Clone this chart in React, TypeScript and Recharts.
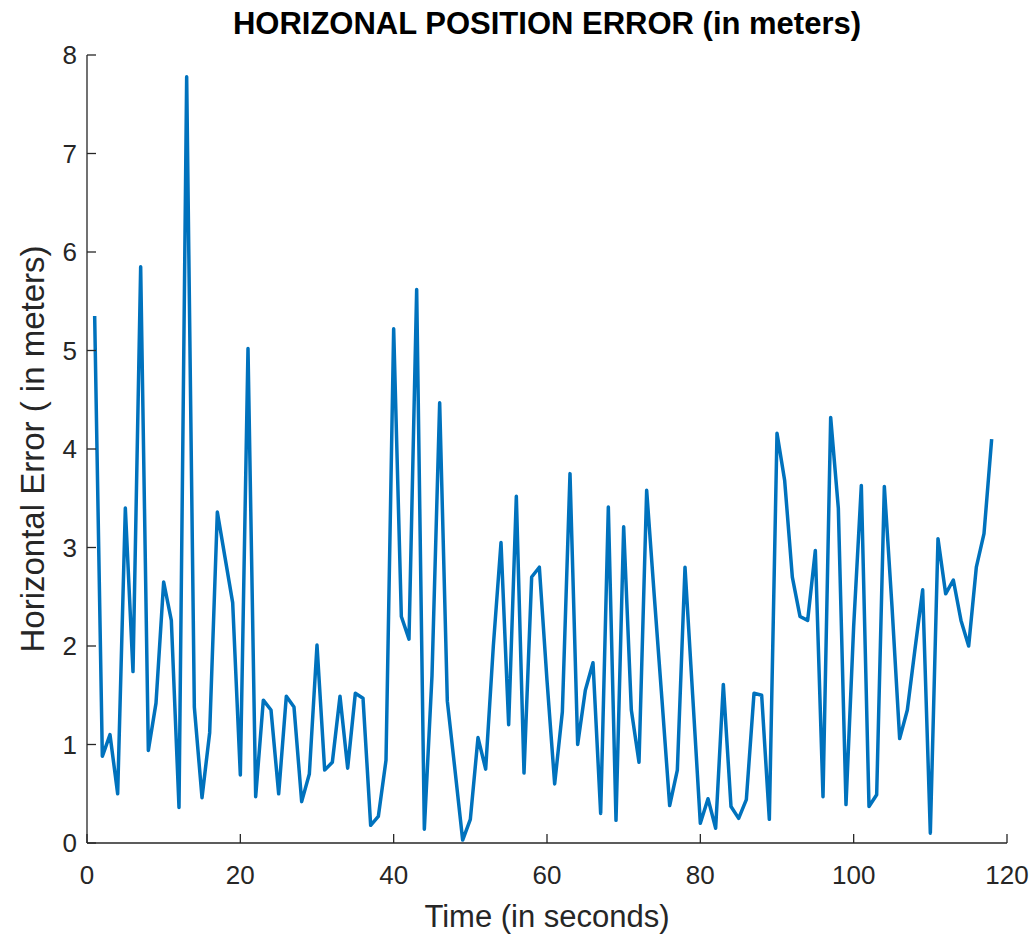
import React from 'react';
import { LineChart, Line, XAxis, YAxis } from 'recharts';

const seconds = [
  1, 2, 3, 4, 5, 6, 7, 8, 9, 10, 11, 12, 13, 14, 15, 16, 17, 18, 19, 20,
  21, 22, 23, 24, 25, 26, 27, 28, 29, 30, 31, 32, 33, 34, 35, 36, 37, 38, 39, 40,
  41, 42, 43, 44, 45, 46, 47, 48, 49, 50, 51, 52, 53, 54, 55, 56, 57, 58, 59, 60,
  61, 62, 63, 64, 65, 66, 67, 68, 69, 70, 71, 72, 73, 74, 75, 76, 77, 78, 79, 80,
  81, 82, 83, 84, 85, 86, 87, 88, 89, 90, 91, 92, 93, 94, 95, 96, 97, 98, 99, 100,
  101, 102, 103, 104, 105, 106, 107, 108, 109, 110, 111, 112, 113, 114, 115, 116, 117, 118,
];

const horizontalError = [
  5.35, 0.88, 1.1, 0.5, 3.4, 1.74, 5.85, 0.94, 1.42, 2.65,
  2.26, 0.36, 7.78, 1.38, 0.46, 1.12, 3.36, 2.9, 2.44, 0.69,
  5.02, 0.47, 1.45, 1.35, 0.5, 1.49, 1.38, 0.42, 0.7, 2.01,
  0.74, 0.82, 1.49, 0.76, 1.52, 1.47, 0.18, 0.27, 0.84, 5.22,
  2.3, 2.07, 5.62, 0.14, 1.7, 4.47, 1.44, 0.74, 0.03, 0.24,
  1.07, 0.75, 2.0, 3.05, 1.2, 3.52, 0.71, 2.7, 2.8, 1.65,
  0.6, 1.33, 3.75, 1.0, 1.55, 1.83, 0.3, 3.41, 0.23, 3.21,
  1.35, 0.82, 3.58, 2.5, 1.45, 0.38, 0.74, 2.8, 1.5, 0.2,
  0.45, 0.15, 1.61, 0.37, 0.25, 0.44, 1.52, 1.5, 0.24, 4.16,
  3.68, 2.7, 2.3, 2.26, 2.97, 0.47, 4.32, 3.4, 0.39, 2.2,
  3.63, 0.37, 0.49, 3.62, 2.4, 1.06, 1.35, 1.97, 2.57, 0.1,
  3.09, 2.53, 2.67, 2.26, 2.0, 2.8, 3.14, 4.1,
];

const xTicks = [0, 20, 40, 60, 80, 100, 120];
const yTicks = [0, 1, 2, 3, 4, 5, 6, 7, 8];

const titleText = 'HORIZONAL POSITION ERROR (in meters)';
const xLabelText = 'Time (in seconds)';
const yLabelText = 'Horizontal Error ( in meters)';

const data = seconds.map((t, i) => ({ t, err: horizontalError[i] }));

const INK = '#262626';
const FONT = "'Liberation Sans', Arial, Helvetica, sans-serif";
const TICK_LEN = 9;
const MARGIN = 10;

const BottomTick = (props: any) => {
  const { x, y, payload } = props;
  const axisY = y - MARGIN;
  return (
    <g>
      <line x1={x} x2={x} y1={axisY} y2={axisY - TICK_LEN} stroke={INK} strokeWidth={1.3} />
      <text x={x} y={axisY + 41} textAnchor="middle" fill={INK} fontSize={26} fontFamily={FONT}>
        {payload.value}
      </text>
    </g>
  );
};

const LeftTick = (props: any) => {
  const { x, y, payload } = props;
  const axisX = x + MARGIN;
  return (
    <g>
      <line x1={axisX} x2={axisX + TICK_LEN} y1={y} y2={y} stroke={INK} strokeWidth={1.3} />
      <text x={axisX - 10} y={y + 9} textAnchor="end" fill={INK} fontSize={26} fontFamily={FONT}>
        {payload.value}
      </text>
    </g>
  );
};

const TopTick = (props: any) => {
  const { x, y } = props;
  return <line x1={x} x2={x} y1={y} y2={y + TICK_LEN} stroke={INK} strokeWidth={1.3} />;
};

const RightTick = (props: any) => {
  const { x, y } = props;
  return <line x1={x} x2={x - TICK_LEN} y1={y} y2={y} stroke={INK} strokeWidth={1.3} />;
};

export default function App() {
  const axisLine = { stroke: INK, strokeWidth: 1.3 };
  return (
    <div style={{ position: 'absolute', left: 0, top: 0, width: 1035, height: 941, background: '#ffffff' }}>
      <LineChart
        width={1035}
        height={941}
        data={data}
        margin={{ top: 55, right: 28, bottom: 38, left: 27 }}
      >
        <XAxis
          dataKey="t"
          type="number"
          domain={[0, 120]}
          ticks={xTicks}
          interval={0}
          height={60}
          tickSize={0}
          tickMargin={MARGIN}
          tickLine={false}
          axisLine={axisLine}
          tick={<BottomTick />}
        />
        <XAxis
          xAxisId="top"
          orientation="top"
          dataKey="t"
          type="number"
          domain={[0, 120]}
          ticks={xTicks}
          interval={0}
          height={0}
          tickSize={0}
          tickMargin={0}
          tickLine={false}
          axisLine={axisLine}
          tick={<TopTick />}
        />
        <YAxis
          type="number"
          domain={[0, 8]}
          ticks={yTicks}
          interval={0}
          width={60}
          tickSize={0}
          tickMargin={MARGIN}
          tickLine={false}
          axisLine={axisLine}
          tick={<LeftTick />}
        />
        <YAxis
          yAxisId="right"
          orientation="right"
          type="number"
          domain={[0, 8]}
          ticks={yTicks}
          interval={0}
          width={0}
          tickSize={0}
          tickMargin={0}
          tickLine={false}
          axisLine={axisLine}
          tick={<RightTick />}
        />
        <Line
          type="linear"
          dataKey="err"
          stroke="#0072BD"
          strokeWidth={3.5}
          dot={false}
          activeDot={false}
          isAnimationActive={false}
          strokeLinejoin="round"
        />
        <text x={547} y={34} textAnchor="middle" fill="#000000" fontSize={31} fontWeight="bold" fontFamily={FONT}>
          {titleText}
        </text>
        <text x={547} y={927} textAnchor="middle" fill={INK} fontSize={31} fontFamily={FONT}>
          {xLabelText}
        </text>
        <text
          x={33}
          y={449}
          textAnchor="middle"
          dy={11}
          transform="rotate(-90 33 449)"
          fill={INK}
          fontSize={33}
          fontFamily={FONT}
        >
          {yLabelText}
        </text>
      </LineChart>
    </div>
  );
}
